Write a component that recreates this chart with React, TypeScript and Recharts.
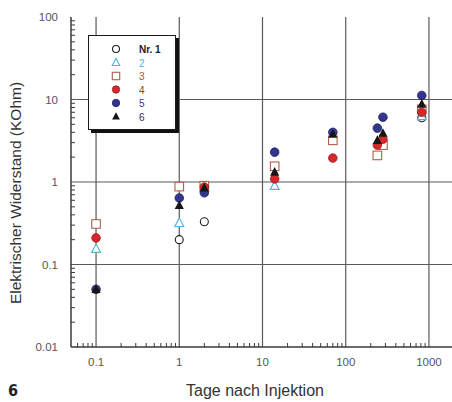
import { ScatterChart, Scatter, XAxis, YAxis, ReferenceLine, Legend } from 'recharts';

const days = [0.1, 1, 2, 14, 70, 240, 280, 820];
const nr1 = [null, 0.2, 0.33, null, null, null, null, 6.0];
const nr2 = [0.155, 0.32, 0.86, 0.9, null, null, null, 6.3];
const nr3 = [0.31, 0.88, 0.9, 1.55, 3.2, 2.1, 2.8, 7.6];
const nr4 = [0.21, null, 0.87, 1.09, 1.95, 2.8, 3.3, 7.0];
const nr5 = [0.05, 0.64, 0.74, 2.3, 4.0, 4.5, 6.1, 11.2];
const nr6 = [0.05, 0.52, 0.85, 1.32, 3.8, 3.2, 3.9, 8.8];

const seriesNames = ['Nr. 1', '2', '3', '4', '5', '6'];
const xLabels = ['0.1', '1', '10', '100', '1000'];
const yLabels = ['0.01', '0.1', '1', '10', '100'];
const minorSteps = [2, 3, 4, 5, 6, 7, 8, 9];
const xDomain = [0.05, 2000];
const yDomain = [0.01, 100];

const toPoints = (vals: (number | null)[]) =>
  days.map((d, i) => ({ x: d, y: vals[i] })).filter((p) => p.y != null);

// decade labels plus the 2..9 minor ticks between them, inside the domain
const buildTicks = (labels: string[], lo: number, hi: number) => {
  const decs = labels.map(Number);
  const out: number[] = [];
  [decs[0] / 10, ...decs].forEach((dec) => {
    minorSteps.forEach((m) => out.push(dec * m));
  });
  const minors = out.filter((v) => v > lo * 1.0001 && v < hi * 0.9999);
  return [...decs, ...minors].sort((a, b) => a - b);
};
const xTicks = buildTicks(xLabels, xDomain[0], xDomain[1]);
const yTicks = buildTicks(yLabels, yDomain[0], yDomain[1]);

const isDecade = (v: number) => Math.abs(Math.log10(v) - Math.round(Math.log10(v))) < 1e-6;

const PLOT_TOP = 17;
const PLOT_BOTTOM = 347;
const PLOT_LEFT = 71;
const PLOT_RIGHT = 454;
const AXIS = '#3a3a3a';
const GRID = '#5a5a5a';
const FONT = '"Liberation Sans", Arial, sans-serif';

const colors = {
  c1: '#222222',
  c2: '#4fb3dc',
  c3: '#b0604a',
  c4: '#d6282a',
  c5: '#33358f',
  c6: '#151515',
};

const BottomTick = (props: any) => {
  const { x, payload } = props;
  const v = payload.value;
  if (isDecade(v)) {
    return (
      <text x={x} y={PLOT_BOTTOM + 19} textAnchor="middle" fontSize={11.5} fill="#555" fontFamily={FONT}>
        {xLabels.find((l) => Math.abs(Number(l) - v) < 1e-9)}
      </text>
    );
  }
  return <line x1={x} x2={x} y1={PLOT_BOTTOM} y2={PLOT_BOTTOM - 4} stroke={AXIS} strokeWidth={1} />;
};

const TopTick = (props: any) => {
  const { x, payload } = props;
  if (isDecade(payload.value)) return <g />;
  return <line x1={x} x2={x} y1={PLOT_TOP} y2={PLOT_TOP + 4} stroke={AXIS} strokeWidth={1} />;
};

const LeftTick = (props: any) => {
  const { y, payload } = props;
  const v = payload.value;
  if (isDecade(v)) {
    return (
      <text x={PLOT_LEFT - 13} y={y + 4} textAnchor="end" fontSize={11.5} fill="#555" fontFamily={FONT}>
        {yLabels.find((l) => Math.abs(Number(l) - v) < 1e-12)}
      </text>
    );
  }
  return <line x1={PLOT_LEFT} x2={PLOT_LEFT + 4} y1={y} y2={y} stroke={AXIS} strokeWidth={1} />;
};

const RightTick = (props: any) => {
  const { y, payload } = props;
  if (isDecade(payload.value)) return <g />;
  return <line x1={PLOT_RIGHT - 5} x2={PLOT_RIGHT} y1={y} y2={y} stroke={AXIS} strokeWidth={1} />;
};

const OpenCircle = (p: any) => <circle cx={p.cx} cy={p.cy} r={p.s ? 3.5 : 4} fill="#fff" stroke={colors.c1} strokeWidth={1.1} />;
const OpenTriangle = (p: any) => {
  const k = p.s ? 0.85 : 1;
  return (
    <path
      d={`M${p.cx},${p.cy - 4.8 * k}L${p.cx + 4.5 * k},${p.cy + 3.6 * k}L${p.cx - 4.5 * k},${p.cy + 3.6 * k}Z`}
      fill="#fff"
      stroke={colors.c2}
      strokeWidth={1.1}
    />
  );
};
const OpenSquare = (p: any) => {
  const h = p.s ? 3.7 : 4.3;
  return <rect x={p.cx - h} y={p.cy - h} width={2 * h} height={2 * h} fill="#fff" stroke={colors.c3} strokeWidth={1.1} />;
};
const RedDot = (p: any) => <circle cx={p.cx} cy={p.cy} r={p.s ? 3.7 : 4.3} fill={colors.c4} stroke="#a51a1c" strokeWidth={0.8} />;
const BlueDot = (p: any) => <circle cx={p.cx} cy={p.cy} r={p.s ? 3.7 : 4.3} fill={colors.c5} stroke="#1d1f60" strokeWidth={0.8} />;
const BlackTriangle = (p: any) => {
  const k = p.s ? 0.85 : 1;
  return (
    <path
      d={`M${p.cx},${p.cy - 5 * k}L${p.cx + 4.6 * k},${p.cy + 3.6 * k}L${p.cx - 4.6 * k},${p.cy + 3.6 * k}Z`}
      fill={colors.c6}
    />
  );
};

const legendMarkers = [OpenCircle, OpenTriangle, OpenSquare, RedDot, BlueDot, BlackTriangle];
const legendText = ['#222', '#5ab3de', '#a0523f', '#8e3a30', '#3a3a86', '#333'];

const LegendBox = () => (
  <div
    style={{
      width: 88,
      height: 95,
      background: '#fff',
      border: '1.5px solid #1a1a1a',
      boxShadow: '3px 3px 0 #111',
      boxSizing: 'border-box',
      position: 'relative',
    }}
  >
    <svg width={88} height={95} style={{ position: 'absolute', left: -1.5, top: -1.5 }}>
      {seriesNames.map((n, i) => {
        const M = legendMarkers[i];
        const cy = 14 + i * 13.5;
        return (
          <g key={n}>
            <M cx={28} cy={cy} s />
            <text x={51} y={cy + 4} fontSize={10} fontWeight={n === 'Nr. 1' ? 'bold' : 'normal'} fill={legendText[i]} fontFamily={FONT}>
              {n}
            </text>
          </g>
        );
      })}
    </svg>
  </div>
);

const XTitle = () => (
  <g>
    <text x={255} y={396} textAnchor="middle" fontSize={16} fill="#333" fontFamily={FONT}>
      Tage nach Injektion
    </text>
    <text x={8} y={396} fontSize={16} fontWeight="bold" fill="#222" fontFamily='"Liberation Sans Narrow", "DejaVu Sans Condensed", sans-serif'>
      6
    </text>
  </g>
);

const YTitle = () => (
  <text x={0} y={0} transform="translate(21,193) rotate(-90)" textAnchor="middle" fontSize={15.5} fill="#333" fontFamily={FONT}>
    Elektrischer Widerstand (KOhm)
  </text>
);

const series = [
  { name: 'Nr. 1', data: toPoints(nr1), shape: OpenCircle },
  { name: '2', data: toPoints(nr2), shape: OpenTriangle },
  { name: '3', data: toPoints(nr3), shape: OpenSquare },
  { name: '4', data: toPoints(nr4), shape: RedDot },
  { name: '5', data: toPoints(nr5), shape: BlueDot },
  { name: '6', data: toPoints(nr6), shape: BlackTriangle },
];

export default function App() {
  return (
    <div style={{ position: 'absolute', left: 0, top: 0, width: 452, height: 402, overflow: 'hidden', background: '#fff' }}>
      <ScatterChart width={454} height={402} margin={{ top: PLOT_TOP, right: 0, bottom: 25, left: 31 }}>
        <XAxis
          dataKey="x"
          type="number"
          scale="log"
          domain={xDomain}
          allowDataOverflow
          ticks={xTicks}
          interval={0}
          tick={<BottomTick />}
          tickLine={false}
          axisLine={{ stroke: AXIS, strokeWidth: 1.5 }}
          height={30}
          label={<XTitle />}
        />
        <XAxis
          xAxisId="top"
          orientation="top"
          dataKey="x"
          type="number"
          scale="log"
          domain={xDomain}
          allowDataOverflow
          ticks={xTicks}
          interval={0}
          tick={<TopTick />}
          tickLine={false}
          axisLine={{ stroke: AXIS, strokeWidth: 1.5 }}
          height={0}
        />
        <YAxis
          dataKey="y"
          type="number"
          scale="log"
          domain={yDomain}
          allowDataOverflow
          ticks={yTicks}
          interval={0}
          tick={<LeftTick />}
          tickLine={false}
          axisLine={{ stroke: AXIS, strokeWidth: 1.5 }}
          width={40}
          label={<YTitle />}
        />
        <YAxis
          yAxisId="right"
          orientation="right"
          dataKey="y"
          type="number"
          scale="log"
          domain={yDomain}
          allowDataOverflow
          ticks={yTicks}
          interval={0}
          tick={<RightTick />}
          tickLine={false}
          axisLine={{ stroke: AXIS, strokeWidth: 1.5 }}
          width={0}
        />
        {xLabels.map((l) => (
          <ReferenceLine key={'x' + l} x={Number(l)} stroke={GRID} strokeWidth={1.2} />
        ))}
        {yLabels.slice(1, 4).map((l) => (
          <ReferenceLine key={'y' + l} y={Number(l)} stroke={GRID} strokeWidth={1.2} />
        ))}
        {series.map((s) => (
          <Scatter key={s.name} name={s.name} data={s.data} shape={s.shape} isAnimationActive={false} />
        ))}
        <Legend
          layout="horizontal"
          align="center"
          verticalAlign="middle"
          wrapperStyle={{ position: 'absolute', left: 88, top: 35, width: 92, height: 99 }}
          content={() => <LegendBox />}
        />
      </ScatterChart>
    </div>
  );
}
